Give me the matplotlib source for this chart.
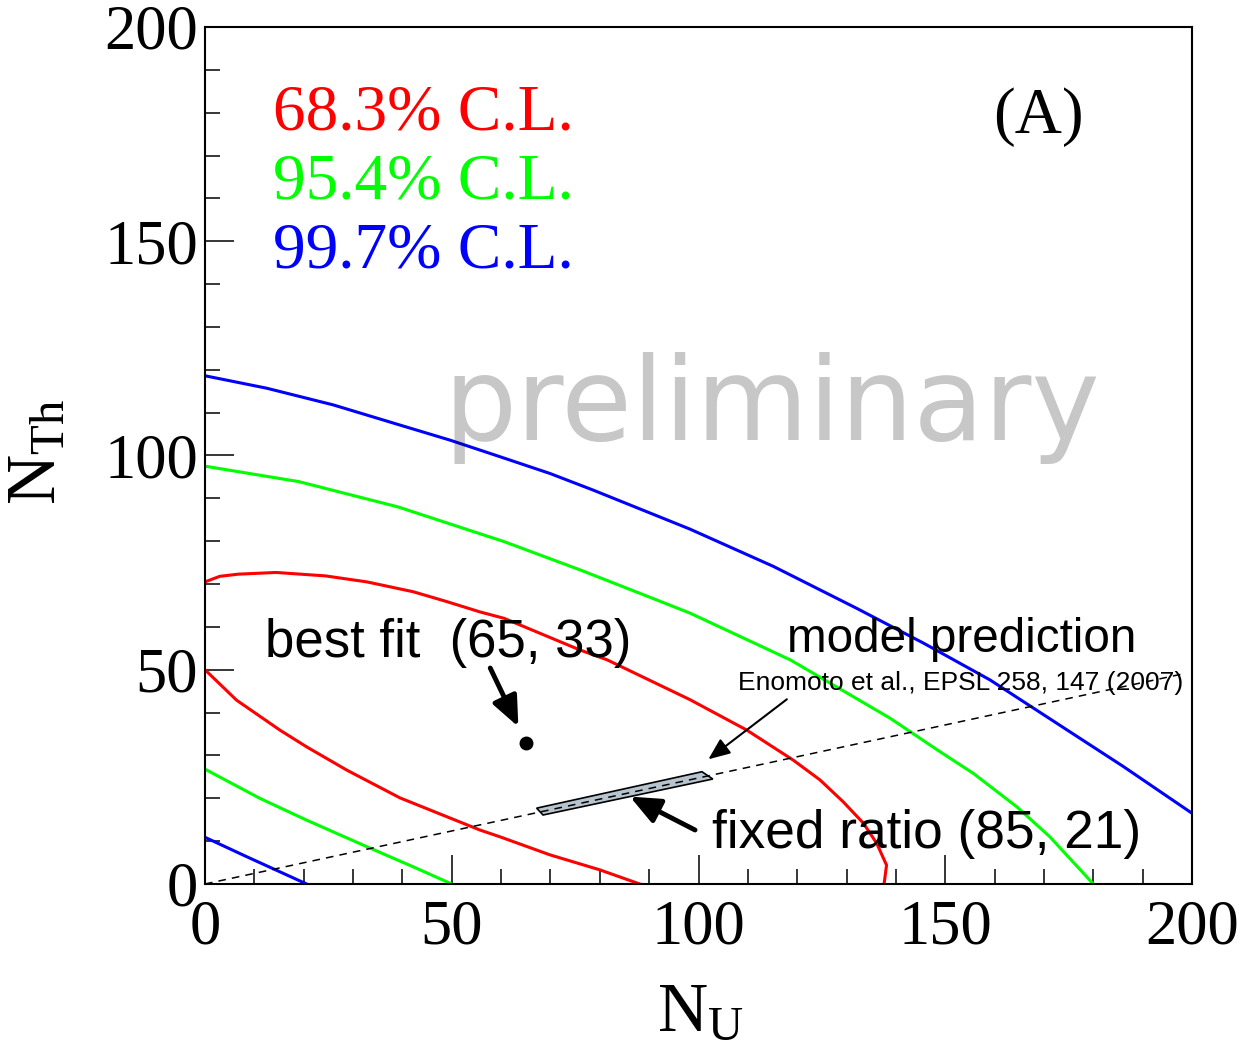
"""
Contours de confiance N_Th vs N_U (style ROOT)
"""
import matplotlib
matplotlib.use('Agg')
import matplotlib.pyplot as plt
from matplotlib.patches import Polygon

plt.rcParams['mathtext.fontset'] = 'custom'
plt.rcParams['mathtext.rm'] = 'Liberation Serif'
plt.rcParams['mathtext.it'] = 'Liberation Serif'

# contours (N_U, N_Th)
red_inner_x = [0, 6.4, 15.2, 20.6, 28.7, 39.5, 49.0, 55.7, 59.8, 69.9, 80.0, 88.1]
red_inner_y = [50.0, 42.9, 35.9, 32.0, 26.6, 20.1, 15.7, 12.6, 11.0, 6.8, 3.3, 0]
red_outer_x = [0, 3.0, 6.7, 14.4, 24.4, 32.8, 42.2, 49.0, 55.7, 60.6, 76.0, 81.5, 98.3,
               109.8, 119.2, 124.6, 129.3, 133.4, 136.1, 138.1, 137.6]
red_outer_y = [70.5, 71.8, 72.3, 72.7, 71.9, 70.5, 68.2, 65.9, 63.5, 62.0, 54.6, 52.3, 43.0,
               35.9, 28.9, 24.3, 19.2, 14.2, 9.5, 4.4, 0]
green_inner_x = [0, 11.1, 20.6, 32.8, 42.2, 50.0]
green_inner_y = [26.8, 20.0, 14.9, 8.7, 4.0, 0]
green_outer_x = [0, 19.0, 39.1, 60.6, 76.0, 91.5, 98.3, 118.6, 138.8, 148.9, 155.7, 164.5, 171.2, 180.0]
green_outer_y = [97.5, 93.9, 88.0, 79.9, 73.3, 66.3, 63.2, 52.3, 38.7, 30.9, 25.8, 18.0, 11.0, 0]
blue_inner_x = [0, 8.4, 20.6]
blue_inner_y = [10.9, 6.4, 0]
blue_outer_x = [0, 12.5, 26.0, 39.5, 49.6, 59.8, 69.9, 78.7, 98.3, 115.2, 132.1, 145.6,
                159.1, 172.6, 186.1, 200.0]
blue_outer_y = [118.6, 115.7, 111.8, 107.1, 103.6, 99.7, 95.8, 91.9, 82.8, 74.1, 64.3, 56.2,
                47.6, 37.5, 27.4, 16.5]

best_fit = (65, 33)
ratio_line_x = [0, 198]
ratio_line_y = [0, 49.0]
band_x = [67.2, 68.5, 102.9, 100.7]
band_y = [17.7, 16.1, 24.5, 26.2]

cl_labels = ['68.3% C.L.', '95.4% C.L.', '99.7% C.L.']
cl_colors = ['#ff0000', '#00ff00', '#0000ff']

fig = plt.figure(figsize=(12.49, 10.53), dpi=100)
ax = fig.add_axes([0.1641, 0.1605, 0.7903, 0.8139])

lw = 2.2
ax.plot(red_inner_x, red_inner_y, color=cl_colors[0], lw=lw)
ax.plot(red_outer_x, red_outer_y, color=cl_colors[0], lw=lw)
ax.plot(green_inner_x, green_inner_y, color=cl_colors[1], lw=lw)
ax.plot(green_outer_x, green_outer_y, color=cl_colors[1], lw=lw)
ax.plot(blue_inner_x, blue_inner_y, color=cl_colors[2], lw=lw)
ax.plot(blue_outer_x, blue_outer_y, color=cl_colors[2], lw=lw)

# bande du modèle et droite de rapport fixe
ax.add_patch(Polygon(list(zip(band_x, band_y)), closed=True, facecolor='#b7c4ce',
                     edgecolor='black', lw=1.2, zorder=3))
ax.plot(ratio_line_x, ratio_line_y, color='black', lw=1.1, ls=(0, (5, 4)), zorder=4)

ax.plot(*best_fit, 'o', color='black', ms=9, zorder=5)

ax.set_xlim(0, 200)
ax.set_ylim(0, 200)
ax.set_xticks(range(0, 201, 50))
ax.set_yticks(range(0, 201, 50))
ax.set_xticks(range(0, 201, 10), minor=True)
ax.set_yticks(range(0, 201, 10), minor=True)
ax.tick_params(which='both', direction='in', top=False, right=False, width=1.1)
ax.tick_params(which='major', length=21, labelsize=45)
ax.tick_params(axis='x', which='major', pad=11)
ax.tick_params(axis='y', which='major', pad=5)
ax.tick_params(which='minor', length=10.5)
for lab in ax.get_xticklabels() + ax.get_yticklabels():
    lab.set_family('Liberation Serif')
for sp in ax.spines.values():
    sp.set_linewidth(1.5)

# légende texte
for i, (lab, col) in enumerate(zip(cl_labels, cl_colors)):
    ax.text(13.8, 176 - i * 16.1, lab, color=col, fontsize=47,
            family='Liberation Serif', va='baseline')
ax.text(159.7, 175.3, '(A)', fontsize=47, family='Liberation Serif', va='baseline')

ax.text(48.3, 103.6, 'preliminary', fontsize=83, family='DejaVu Sans', color='black',
        alpha=0.22, va='baseline', zorder=10)

ax.text(12.2, 53.0, 'best fit  (65, 33)', fontsize=38, family='Liberation Sans', va='baseline')
ax.text(117.9, 54.1, 'model prediction', fontsize=34.3, family='Liberation Sans', va='baseline')
ax.text(108.0, 45.3, 'Enomoto et al., EPSL 258, 147 (2007)', fontsize=19,
        family='Liberation Sans', va='baseline')
ax.text(102.7, 8.4, 'fixed ratio (85, 21)', fontsize=38.3, family='Liberation Sans', va='baseline')

thick = dict(arrowstyle='-|>,head_length=0.7,head_width=0.3', color='black', lw=3.5,
             shrinkA=0, shrinkB=0, mutation_scale=26)
ax.annotate('', xy=(63.5, 36.7), xytext=(57.8, 50.4), arrowprops=thick)
ax.annotate('', xy=(86.1, 20.4), xytext=(99.3, 12.6), arrowprops=thick)
ax.annotate('', xy=(102.0, 29.1), xytext=(117.9, 43.1),
            arrowprops=dict(arrowstyle='-|>,head_length=0.6,head_width=0.25', color='black',
                            lw=1.5, shrinkA=0, shrinkB=0, mutation_scale=22))

fig.text(657 / 1249, 1 - 1030 / 1053, r'$\mathrm{N}_{\mathrm{U}}$', fontsize=50,
         ha='left', va='baseline')
fig.text(55 / 1249, 1 - 505 / 1053, r'$\mathrm{N}_{\mathrm{Th}}$', fontsize=50,
         rotation=90, rotation_mode='anchor', ha='left', va='baseline')

fig.savefig('out.png', dpi=100)
plt.close(fig)
